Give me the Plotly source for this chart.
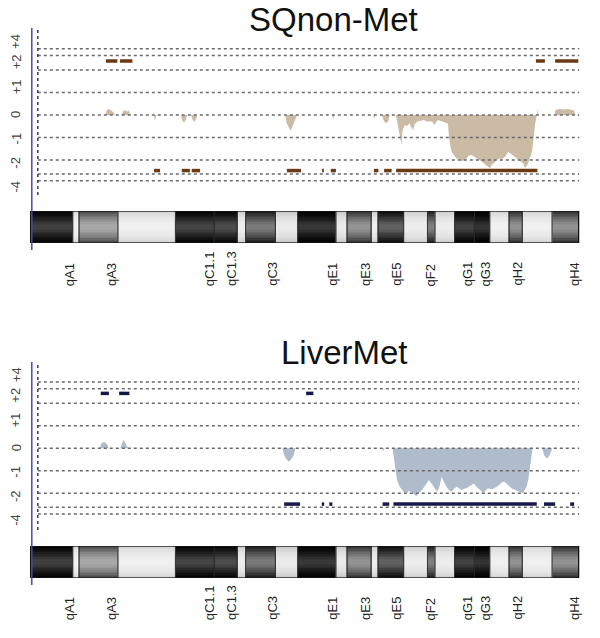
import plotly.graph_objects as go

# ---------------- data ----------------
titles = ["SQnon-Met", "LiverMet"]

# y tick labels and where they sit (copy-number scale)
tick_labels = ["+4", "+2", "+1", "0", "-1", "-2", "-4"]
tick_pos = [3.25, 2.34, 1.23, 0.0, -1.04, -2.12, -3.18]
grid_levels = [2.95, 2.65, 2.0, 1.0, 0.0, -1.0, -2.0, -2.62, -2.92]

# ideogram bands (Mb) of mouse chr2
band_edges = [0, 14.0, 16.1, 29.0, 48.1, 61.0, 68.6, 71.4, 81.3, 88.7, 101.4, 105.1,
              113.1, 115.4, 123.9, 131.8, 134.3, 140.8, 147.4, 152.5, 158.9, 163.3, 173.2, 182.0]
band_gray = [0.25, 0.95, 0.66, 0.94, 0.27, 0.3, 0.93, 0.48, 0.92, 0.22, 0.92, 0.58,
             0.93, 0.38, 0.93, 0.5, 0.93, 0.26, 0.2, 0.94, 0.57, 0.94, 0.57]
band_labels = ["qA1", "qA3", "qC1.1", "qC1.3", "qC3", "qE1", "qE3", "qE5", "qF2",
               "qG1", "qG3", "qH2", "qH4"]
band_label_pos = [13.0, 26.9, 59.5, 66.7, 80.1, 100.2, 111.2, 121.4, 132.8,
                  145.2, 151.2, 161.4, 180.5]

# SQnon-Met profile
p1_pos = [0, 24.8, 25.3, 26.0, 26.8, 27.6, 28.0,
          30.2, 30.8, 31.5, 32.0, 32.6, 33.0,
          40.9, 41.3, 41.7,
          49.9, 50.4, 51.0, 51.6, 52.0, 53.3, 53.8, 54.4, 55.0, 55.4,
          84.6, 85.0, 85.8, 86.4, 87.0, 87.6, 88.2, 88.5,
          100.2, 100.5, 100.8,
          113.8, 114.1, 114.4,
          116.7, 117.3, 118.0, 118.7, 119.3,
          121.3, 121.6, 122.2, 122.8, 123.2, 123.5, 124.3, 125.0, 125.8, 126.5, 127.0,
          127.6, 128.3, 129.5, 130.8, 131.5, 132.5, 133.4, 134.2, 134.8, 135.3, 136.5,
          137.3, 138.0, 138.6, 139.0, 139.8, 140.5, 141.4, 142.3, 143.2, 143.9, 144.7,
          145.5, 146.5, 147.3, 148.2, 149.3, 150.4, 151.2, 152.0, 152.6, 153.2, 153.8,
          154.7, 155.6, 156.6, 157.6, 158.6, 159.3, 160.0, 161.0, 162.0, 163.0, 163.6,
          164.2, 164.8, 165.2, 165.8, 166.5, 167.0, 167.5, 168.1,
          168.2, 168.4, 168.7,
          174.1, 174.3, 175.5, 177.0, 178.5, 179.8, 180.5, 180.8, 181.0, 182.0]
p1_val = [0, 0, 0.22, 0.27, 0.2, 0.1, 0,
          0, 0.18, 0.22, 0.15, 0.2, 0,
          0, -0.27, 0,
          0, -0.25, -0.33, -0.2, 0, 0, -0.22, -0.3, -0.15, 0,
          0, -0.35, -0.55, -0.7, -0.5, -0.3, -0.1, 0,
          0, -0.2, 0,
          0, -0.2, 0,
          0, -0.25, -0.35, -0.3, 0,
          0, -0.2, -0.6, -0.9, -1.33, -0.7, -0.44, -0.5, -0.37, -0.55, -0.67,
          -0.4, -0.3, -0.25, -0.22, -0.3, -0.28, -0.3, -0.44, -0.3, -0.22, -0.28,
          -0.3, -0.35, -0.37, -1.04, -1.63, -1.75, -1.93, -1.95, -2.07, -2.0, -1.95,
          -1.8, -1.78, -1.85, -1.93, -2.0, -2.12, -2.22, -2.3, -2.37, -2.2, -2.15,
          -2.0, -1.93, -1.95, -1.85, -1.63, -1.7, -1.78, -1.9, -2.0, -2.1, -2.15,
          -2.37, -2.25, -2.15, -1.9, -1.63, -1.1, -0.44, 0,
          0, 0.27, 0,
          0, 0.22, 0.27, 0.25, 0.27, 0.22, 0.2, 0.05, 0, 0]

# LiverMet profile
p2_pos = [0, 22.9, 23.3, 23.7, 24.5, 25.3, 25.8, 26.0,
          29.8, 30.3, 30.8, 31.3, 31.9, 32.4,
          83.6, 84.2, 85.0, 85.8, 86.5, 87.2, 87.8, 88.0,
          91.9, 92.1, 92.4,
          96.0, 96.3, 96.6, 99.3, 99.6, 99.9,
          116.9, 117.2, 117.5,
          120.2, 120.6, 121.0, 121.7, 122.5, 123.3, 124.0, 124.9, 125.6, 126.5, 127.4,
          128.1, 128.8, 129.6, 130.5, 131.4, 132.3, 133.3, 134.2, 135.0, 135.8, 136.5,
          137.3, 138.1, 139.0, 139.8, 140.6, 141.5, 142.3, 143.0, 143.8, 144.7, 145.5,
          146.3, 147.2, 148.0, 148.8, 149.6, 150.3, 151.0, 151.8, 152.6, 153.4, 154.2,
          155.0, 155.8, 156.6, 157.4, 158.3, 159.2, 160.0, 160.9, 161.8, 162.7, 163.5,
          164.1, 164.7, 165.3, 165.7, 166.1, 166.4, 166.7,
          170.0, 170.5, 171.4, 172.2, 173.0, 173.2, 182.0]
p2_val = [0, 0, 0.15, 0.25, 0.27, 0.2, 0.05, 0,
          0, 0.2, 0.37, 0.28, 0.15, 0,
          0, -0.3, -0.5, -0.6, -0.5, -0.35, -0.1, 0,
          0, 0.15, 0,
          0, -0.12, 0, 0, -0.18, 0,
          0, -0.15, 0,
          0, -0.4, -0.82, -1.41, -1.7, -1.86, -1.95, -2.0, -1.9, -1.95, -2.05,
          -2.13, -2.0, -1.93, -1.75, -1.56, -1.41, -1.6, -1.78, -1.93, -1.7, -1.27,
          -1.5, -1.71, -1.85, -1.93, -1.8, -1.71, -1.78, -1.86, -1.8, -1.78, -1.71,
          -1.65, -1.56, -1.7, -1.78, -1.9, -2.0, -1.9, -1.78, -1.8, -1.82, -1.75,
          -1.7, -1.6, -1.5, -1.49, -1.62, -1.71, -1.8, -1.86, -1.9, -1.95, -2.0,
          -1.85, -1.71, -1.4, -0.97, -0.5, -0.22, 0,
          0, -0.3, -0.45, -0.35, -0.1, 0, 0]

# called gain / loss segments (start, end in Mb)
p1_gain_start = [25.0, 29.7, 167.8, 174.2]
p1_gain_end = [28.8, 33.8, 170.8, 181.9]
p1_loss_start = [41.0, 50.2, 53.5, 85.1, 96.8, 99.7, 114.0, 117.4, 121.4]
p1_loss_end = [43.0, 52.9, 56.3, 89.8, 97.4, 101.4, 115.5, 119.9, 168.3]
p2_gain_start = [23.3, 29.4, 91.5]
p2_gain_end = [26.0, 32.8, 93.9]
p2_loss_start = [84.2, 96.7, 99.2, 116.9, 120.5, 170.5, 179.2]
p2_loss_end = [89.5, 97.5, 100.2, 119.1, 168.1, 174.2, 180.5]
gain_level = [2.4, 2.44]
loss_level = [-2.47, -2.48]

# ---------------- figure ----------------
W, H = 600, 638
FONT = "Liberation Sans, Arial, sans-serif"

def py(px):
    return 1 - px / H

fig = go.Figure()

panels = [
    dict(y="y", yi="y2", pos=p1_pos, val=p1_val, fill="#cbbaa4",
         gs=p1_gain_start, ge=p1_gain_end, ls=p1_loss_start, le=p1_loss_end,
         seg="#6b3a14"),
    dict(y="y3", yi="y4", pos=p2_pos, val=p2_val, fill="#aebccb",
         gs=p2_gain_start, ge=p2_gain_end, ls=p2_loss_start, le=p2_loss_end,
         seg="#17174a"),
]


def seg_xy(starts, ends, level):
    xs, ys = [], []
    for s, e in zip(starts, ends):
        xs += [s, e, None]
        ys += [level, level, None]
    return xs, ys

# ideogram gradient rows
ny = 20
row_edges = [i / ny for i in range(ny + 1)]
z = []
for r in range(ny):
    c = (r + 0.5) / ny
    t = (c - 0.5) / 0.5
    z.append([g ** (1 + 2.0 * t * t) for g in band_gray])

for i, p in enumerate(panels):
    fig.add_trace(go.Scatter(x=p["pos"], y=p["val"], xaxis="x", yaxis=p["y"],
                             mode="lines", line=dict(width=0, color=p["fill"]),
                             fill="tozeroy", fillcolor=p["fill"], hoverinfo="skip"))
    gx, gy = seg_xy(p["gs"], p["ge"], gain_level[i])
    lx, ly = seg_xy(p["ls"], p["le"], loss_level[i])
    fig.add_trace(go.Scatter(x=gx + lx, y=gy + ly, xaxis="x", yaxis=p["y"], mode="lines",
                             line=dict(width=3.5, color=p["seg"]), hoverinfo="skip"))
    fig.add_trace(go.Heatmap(x=band_edges, y=row_edges, z=z, xaxis="x", yaxis=p["yi"],
                             colorscale=[[0, "#000000"], [1, "#ffffff"]], zmin=0, zmax=1,
                             showscale=False, hoverinfo="skip"))
    # gridlines
    for lv in grid_levels:
        fig.add_shape(type="line", xref="x", yref=p["y"], x0=2.4, x1=182.2, y0=lv, y1=lv,
                      line=dict(color="#6a6a6a", width=1.5, dash="dot"), layer="above")
    # band outlines
    for a, b in zip(band_edges[:-1], band_edges[1:]):
        fig.add_shape(type="rect", xref="x", yref=p["yi"], x0=a, x1=b, y0=0, y1=1,
                      line=dict(color="#2a2a2a", width=0.7), layer="above")
    fig.add_shape(type="rect", xref="x", yref=p["yi"], x0=band_edges[0], x1=band_edges[-1],
                  y0=0, y1=1, line=dict(color="#111111", width=1.2), layer="above")
    # y tick labels
    for lab, tp in zip(tick_labels, tick_pos):
        fig.add_annotation(text=lab, x=16 / W, xref="paper", xanchor="center",
                           y=tp, yref=p["y"], yanchor="middle",
                           textangle=-90, showarrow=False,
                           font=dict(family=FONT, size=13, color="#444444"))

# titles
fig.add_annotation(text=titles[0], x=333 / W, y=py(20), xref="paper", yref="paper",
                   xanchor="center", yanchor="middle",
                   showarrow=False, font=dict(family=FONT, size=33, color="#111111"))
fig.add_annotation(text=titles[1], x=344 / W, y=py(353), xref="paper", yref="paper",
                   xanchor="center", yanchor="middle",
                   showarrow=False, font=dict(family=FONT, size=33, color="#111111"))

# band labels
for bottom in (288, 622):
    for lab, bp in zip(band_labels, band_label_pos):
        fig.add_annotation(text=lab, x=bp, xref="x", xanchor="center",
                           y=py(bottom), yref="paper", yanchor="bottom",
                           textangle=-90, showarrow=False,
                           font=dict(family=FONT, size=13, color="#222222"))

# left blue axis lines
for top, bot, dtop, dbot in ((28, 250, 30, 197), (362, 585, 365, 530)):
    fig.add_shape(type="line", xref="x", yref="paper", x0=0.4, x1=0.4, y0=py(top), y1=py(bot),
                  line=dict(color="#4a4aa8", width=1.5))
    fig.add_shape(type="line", xref="x", yref="paper", x0=2.4, x1=2.4, y0=py(dtop), y1=py(dbot),
                  line=dict(color="#33338a", width=1.5, dash="dot"))

ax_hidden = dict(visible=False, showgrid=False, zeroline=False)
fig.update_layout(
    width=W, height=H, margin=dict(l=0, r=0, t=0, b=0),
    paper_bgcolor="white", plot_bgcolor="white", showlegend=False,
    xaxis=dict(range=[-10.16, 189.1], domain=[0, 1], anchor="y", **ax_hidden),
    yaxis=dict(domain=[py(205), py(5)], range=[-4.0, 4.889], anchor="x", **ax_hidden),
    yaxis2=dict(domain=[py(243), py(211)], range=[0, 1], anchor="x", **ax_hidden),
    yaxis3=dict(domain=[py(538), py(338)], range=[-3.987, 4.902], anchor="x", **ax_hidden),
    yaxis4=dict(domain=[py(578), py(546)], range=[0, 1], anchor="x", **ax_hidden),
)

fig.write_html("out.html", config={"displayModeBar": False},
               post_script="document.body.style.margin='0px';document.body.style.padding='0px';")
